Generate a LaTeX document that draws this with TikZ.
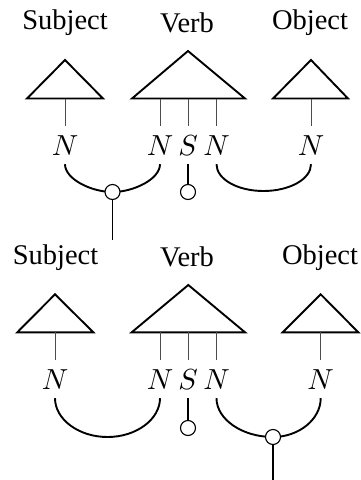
\documentclass[tikz,border=0pt]{standalone}
\usepackage{graphicx}
\usepackage{fontspec}
\setmainfont{Liberation Serif}
\newcommand{\mylabelsym}[1]{\scalebox{2.9}{$#1$}}
\begin{document}
\begin{tikzpicture}[x=1pt,y=-1pt,
  word/.style={font=\fontsize{28.5}{34}\selectfont, inner sep=0pt, anchor=base},
  lab/.style={inner sep=9pt, anchor=base},
  tri/.style={line width=1.9pt, line join=miter},
  thin/.style={line width=0.8pt, black!70},
  wire/.style={line width=1.9pt},
  dot/.style={circle, draw, fill=white, line width=1.1pt, minimum size=15pt, inner sep=0pt}]
\useasboundingbox (0,0) rectangle (361,480);

% ---------------- top diagram ----------------
\node[word] (s1) at (65,29.3) {Subject};
\node[word] (v1) at (187,32.3) {Verb};
\node[word] (o1) at (310,29.3) {Object};

\draw[tri] (27,98.5) -- (65,60) -- (103,98.5) -- cycle;
\draw[tri] (132,98.5) -- (188,51) -- (245,98.5) -- cycle;
\draw[tri] (273,98.5) -- (311,60) -- (348,98.5) -- cycle;

\node[lab] (a1) at (65,155) {\mylabelsym{N}};
\node[lab] (a2) at (160,155) {\mylabelsym{N}};
\node[lab] (a3) at (188,155) {\mylabelsym{S}};
\node[lab] (a4) at (216.5,155) {\mylabelsym{N}};
\node[lab] (a5) at (311,155) {\mylabelsym{N}};

\coordinate (b1) at (65,98.5);
\coordinate (b2) at (160,98.5);
\coordinate (b3) at (188,98.5);
\coordinate (b4) at (216.5,98.5);
\coordinate (b5) at (311,98.5);
\foreach \i in {1,...,5} {\draw[thin] (b\i) -- (a\i.north);}

\coordinate (k1) at (112.5,192);
\coordinate (k2) at (188,192);
\coordinate (e1) at (112.5,240);

\draw[wire] (a1.south) .. controls +(0,15) and +(-21,0) .. (k1);
\draw[wire] (a2.south) .. controls +(0,15) and +(21,0) .. (k1);
\draw[wire] (a4.south) .. controls +(0,15) and +(-26,0) .. (263.5,191)
  .. controls +(26,0) and +(0,15) .. (a5.south);
\draw[wire] (a3.south) -- (k2);
\node[dot] (d1) at (k1) {};
\node[dot] (d2) at (k2) {};
\draw[wire] (d1.south) -- (e1);

% ---------------- bottom diagram ----------------
\node[word] (s2) at (55.5,264) {Subject};
\node[word] (v2) at (187,266.8) {Verb};
\node[word] (o2) at (320,264) {Object};

\draw[tri] (17.3,332.3) -- (55,294.3) -- (93.3,332.3) -- cycle;
\draw[tri] (131.7,332.3) -- (188.3,285) -- (245,332.3) -- cycle;
\draw[tri] (282.7,332.3) -- (320.7,294.3) -- (358.3,332.3) -- cycle;

\node[lab] (m1) at (55,389) {\mylabelsym{N}};
\node[lab] (m2) at (160,389) {\mylabelsym{N}};
\node[lab] (m3) at (188,389) {\mylabelsym{S}};
\node[lab] (m4) at (216.5,389) {\mylabelsym{N}};
\node[lab] (m5) at (320.7,389) {\mylabelsym{N}};

\coordinate (c1) at (55,332.3);
\coordinate (c2) at (160,332.3);
\coordinate (c3) at (188,332.3);
\coordinate (c4) at (216.5,332.3);
\coordinate (c5) at (320.7,332.3);
\foreach \i in {1,...,5} {\draw[thin] (c\i) -- (m\i.north);}

\coordinate (k3) at (188,428);
\coordinate (k4) at (273,437);
\coordinate (e2) at (273,480);

\draw[wire] (m1.south) .. controls +(0,21) and +(-29,0) .. (107.5,437)
  .. controls +(29,0) and +(0,21) .. (m2.south);
\draw[wire] (m3.south) -- (k3);
\draw[wire] (m4.south) .. controls +(0,21) and +(-31,0) .. (k4);
\draw[wire] (m5.south) .. controls +(0,21) and +(26,0) .. (k4);
\node[dot] (d3) at (k3) {};
\node[dot] (d4) at (k4) {};
\draw[wire] (d4.south) -- (e2);
\end{tikzpicture}
\end{document}
